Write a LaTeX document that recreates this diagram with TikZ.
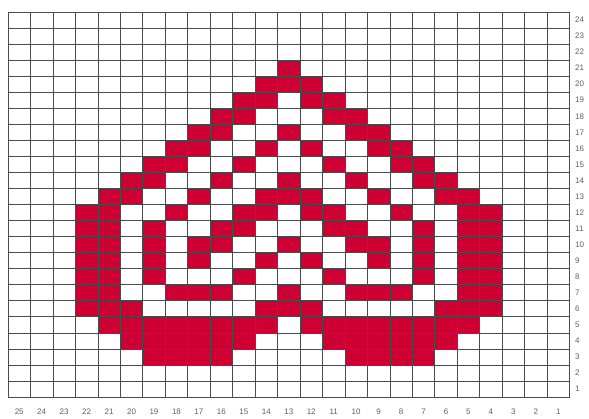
\documentclass[tikz,border=0pt]{standalone}
\usepackage{fontspec}
\setmainfont{Liberation Sans}
\usepackage{tikz}
\definecolor{heartred}{RGB}{206,0,51}
\definecolor{gridgray}{RGB}{75,75,75}
\definecolor{labelgray}{RGB}{95,95,95}

\begin{document}
\begin{tikzpicture}[x=1pt, y=-1pt,
  cell/.style={fill=heartred},
  gridline/.style={draw=gridgray, line width=0.6pt},
  rowlabel/.style={anchor=west, inner sep=0pt, font=\fontsize{8}{9}\selectfont, text=labelgray},
  collabel/.style={anchor=center, inner sep=0pt, font=\fontsize{8}{9}\selectfont, text=labelgray}]

\useasboundingbox (0,0) rectangle (589,418);
\def\cw{22.46}
\def\ch{16.04}

% red stitches: row / columns
\foreach \r/\cols in {21/{13}, 20/{14,13,12}, 19/{15,14,12,11}, 18/{16,15,11,10},
  17/{17,16,13,10,9}, 16/{18,17,14,12,9,8}, 15/{19,18,15,11,8,7},
  14/{20,19,16,13,10,7,6}, 13/{21,20,17,14,13,12,9,6,5},
  12/{22,21,18,15,14,12,11,8,5,4}, 11/{22,21,19,16,15,11,10,7,5,4},
  10/{22,21,19,17,16,13,10,9,7,5,4}, 9/{22,21,19,17,14,12,9,7,5,4},
  8/{22,21,19,15,11,7,5,4}, 7/{22,21,18,17,16,13,10,9,8,5,4},
  6/{22,21,20,14,13,12,6,5,4},
  5/{21,20,19,18,17,16,15,14,12,11,10,9,8,7,6,5},
  4/{20,19,18,17,16,15,11,10,9,8,7,6}, 3/{19,18,17,16,10,9,8,7}}{
  \foreach \c in \cols
    \fill[cell] ({8+(25-\c)*\cw},{12+(24-\r)*\ch}) rectangle ++(\cw,\ch);
}

% grid
\foreach \i in {0,...,25}
  \draw[gridline] ({8+\i*\cw},12) -- ({8+\i*\cw},{12+24*\ch});
\foreach \j in {0,...,24}
  \draw[gridline] (8,{12+\j*\ch}) -- ({8+25*\cw},{12+\j*\ch});

% numbering
\foreach \r in {1,...,24}
  \node[rowlabel] (row\r) at (575,{12+(24-\r)*\ch+\ch/2}) {\r};
\foreach \c in {1,...,25}
  \node[collabel] (col\c) at ({8+(25-\c)*\cw+\cw/2},412) {\c};

\end{tikzpicture}
\end{document}
